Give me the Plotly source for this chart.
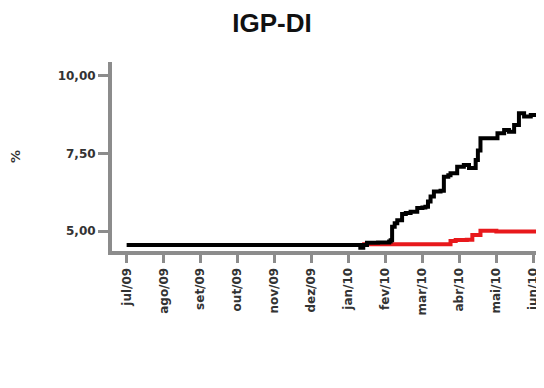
import plotly.graph_objects as go

# month index: 0 = jul/09 ... 11 = jun/10
months = ["jul/09", "ago/09", "set/09", "out/09", "nov/09", "dez/09",
          "jan/10", "fev/10", "mar/10", "abr/10", "mai/10", "jun/10"]
y_ticks = [5, 7.5, 10]
y_labels = ["5,00", "7,50", "10,00"]

black_x = [0.0, 6.28, 6.32, 6.40, 6.50, 6.80, 7.10, 7.14, 7.18, 7.25, 7.32, 7.45,
           7.55, 7.68, 7.86, 8.00, 8.08, 8.15, 8.22, 8.31, 8.49, 8.58, 8.70,
           8.76, 8.94, 9.12, 9.26, 9.44, 9.50, 9.57, 9.89, 10.03, 10.21, 10.34,
           10.48, 10.61, 10.75, 10.93, 11.11]
black_y = [4.55, 4.55, 4.46, 4.55, 4.62, 4.63, 4.66, 4.70, 5.14, 5.25, 5.35, 5.55,
           5.58, 5.62, 5.74, 5.76, 5.78, 5.95, 6.11, 6.27, 6.30, 6.75, 6.80,
           6.86, 7.07, 7.13, 7.03, 7.29, 7.60, 7.99, 7.99, 8.15, 8.26, 8.20,
           8.42, 8.80, 8.69, 8.74, 8.74]

red_x = [6.37, 7.00, 8.60, 8.76, 8.90, 9.20, 9.35, 9.57, 10.0, 11.11]
red_y = [4.57, 4.57, 4.57, 4.68, 4.71, 4.72, 4.87, 5.01, 4.98, 4.97]

fig = go.Figure()
fig.add_trace(go.Scatter(x=red_x, y=red_y, mode="lines",
                         line=dict(color="#e8191c", width=4, shape="hv")))
fig.add_trace(go.Scatter(x=black_x, y=black_y, mode="lines",
                         line=dict(color="#000000", width=4, shape="hv")))

axis_col = "#8c8c8c"
# page body keeps its default 8px margin, so the figure is 8px smaller
fig.update_layout(
    width=536, height=380,
    margin=dict(l=104, r=4, t=54, b=137),
    paper_bgcolor="white", plot_bgcolor="white",
    showlegend=False,
    separators=",.",
    title=dict(text="<b>IGP-DI</b>", x=0.4925, xanchor="center", y=0.96, yanchor="middle",
               font=dict(family="Liberation Sans", size=26, color="#111")),
    font=dict(family="DejaVu Sans", size=11, color="#222"),
)
fig.update_xaxes(
    range=[-0.396, 11.18], tickvals=list(range(12)),
    ticktext=[f"<b>{m}</b>" for m in months],
    tickangle=-90, showgrid=False, zeroline=False, automargin=False,
    showline=True, linecolor=axis_col, linewidth=4,
    ticks="outside", ticklen=8, tickwidth=3, tickcolor=axis_col,
    tickfont=dict(size=12, color="#333"),
)
fig.update_yaxes(
    range=[4.355, 10.45], tickvals=y_ticks,
    ticktext=[f"<b>{t}</b>" for t in y_labels],
    showgrid=False, zeroline=False, automargin=False,
    showline=True, linecolor=axis_col, linewidth=4,
    ticks="outside", ticklen=10, tickwidth=3, tickcolor=axis_col,
    tickfont=dict(size=12, color="#333"),
    title=dict(text="<b>%</b>", font=dict(size=13, color="#333"), standoff=38),
)
fig.write_html("out.html")
